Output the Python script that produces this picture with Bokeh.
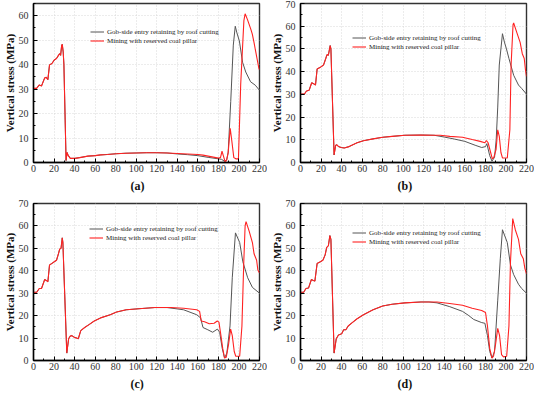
from bokeh.plotting import figure
from bokeh.models import Range1d, FixedTicker, Legend, LegendItem, Title
from bokeh.layouts import column, row
from bokeh.embed import file_html
from bokeh.resources import INLINE

# ---------------- data ----------------
X_TICKS = [0, 20, 40, 60, 80, 100, 120, 140, 160, 180, 200, 220]
X_MINOR = [10, 30, 50, 70, 90, 110, 130, 150, 170, 190, 210]
SERIES_GRAY = "Gob-side entry retaining by roof cutting"
SERIES_RED = "Mining with reserved coal pillar"
PANEL_TAGS = ["(a)", "(b)", "(c)", "(d)"]
Y_MAX = [65, 70, 70, 70]

# (a) shared part (both series coincide), then separate tails
a_common_x = [0, 3, 5.6, 7.8, 10.9, 12.4, 14, 15.6, 18, 20.2, 22.4, 24.3, 25.5, 26.4, 27.4, 28, 28.9, 29.6,
              31.7, 32.7, 33.6, 35.8, 40.4, 45, 52.9, 60, 65.3, 72, 80.9, 90, 100, 110, 120, 130]
a_common_y = [30.3, 30.3, 31.7, 31.3, 34.6, 34.8, 33.9, 39.9, 40.5, 41.9, 42.5, 43.8, 44.5, 43.8, 47.8, 48.3, 45.2, 40,
              0.8, 4.1, 3.0, 1.7, 1.7, 2.0, 2.6, 2.8, 3.1, 3.3, 3.6, 3.8, 3.9, 4.0, 4.0, 3.9]
a_red_x = [140, 150, 160, 165, 170, 175, 180, 182, 183.5, 185, 186.5, 188, 189.5, 191.5, 193, 195, 197, 199.5,
           201.7, 204.8, 206, 208.3, 211.6, 213, 214.7, 216, 217.8, 219.4, 220]
a_red_y = [3.7, 3.5, 3.3, 3.0, 2.6, 2.2, 1.8, 2.0, 4.6, 2.5, 0.3, 1.0, 4.0, 14.0, 9.0, 2.0, 1.5, 1.5,
           32.0, 58.0, 60.8, 58.4, 54.4, 52.5, 49.0, 46.0, 42.0, 38.5, 37.9]
a_gray_x = [140, 150, 160, 170, 180, 183, 186, 188, 189.5, 192, 194.5, 196.4, 198, 200.4, 203.5, 206.6, 211.3,
            215.9, 220]
a_gray_y = [3.5, 3.2, 2.8, 2.1, 1.5, 1.3, 0.5, 1.0, 4.0, 25.0, 48.0, 55.7, 53.0, 49.7, 41.0, 37.0, 33.0,
            31.6, 29.5]

# (b)
b_common_x = [0, 3.7, 5.9, 8.4, 10.9, 13.1, 14.6, 16.2, 19.3, 22.4, 24.6, 25.8, 27.1, 28.9, 29.6, 32.7, 34.2,
              35.5, 37, 39.5, 42.6, 47.3, 55.1, 61.3, 70.6, 80, 89.3, 101.7, 117.3, 130]
b_common_y = [30.1, 30.1, 31.5, 31.8, 35.1, 34.6, 34.1, 41.2, 41.9, 42.9, 45.8, 47.5, 47.2, 51.5, 50, 3.3, 7.6,
              7.8, 7.0, 6.6, 6.4, 7.0, 8.7, 9.6, 10.4, 11.1, 11.5, 12.0, 12.1, 12.0]
b_red_x = [136, 145.3, 157.7, 167.1, 174.9, 179.5, 181, 182.6, 185.1, 186.7, 188.2, 190.4, 192, 193.5, 195.1,
           196.6, 201.3, 203.8, 205, 206.9, 207.5, 210.6, 213.8, 215.9, 217.8, 219, 220]
b_red_y = [12.0, 11.5, 11.1, 10.1, 9.3, 8.7, 9.7, 8.7, 4.4, 1.6, 2.3, 5.8, 14.4, 11.5, 4.4,
           2.0, 2.0, 14.4, 42.9, 60.7, 61.4, 57.2, 52.9, 47.9, 45.8, 40.8, 37.9]
b_gray_x = [140, 150, 160, 170, 176.4, 180.1, 181.4, 184.2, 186.4, 188.9, 190.5, 192, 193.5, 196.6, 198.5,
            200.5, 202.9, 207.5, 212.2, 215.3, 220]
b_gray_y = [11.2, 10.3, 9.3, 7.6, 6.6, 7.0, 8.3, 3.0, 0.6, 2.3, 10.0, 24.4, 42.9, 56.7, 53.0,
            50.0, 45.8, 38.4, 34.1, 32.6, 30.1]

# (c)
c_common_x = [0, 3.1, 5.6, 7.8, 10.9, 12.4, 14, 15.6, 18, 20.2, 22.4, 24.3, 25.5, 26.8, 28, 28.6, 32.4, 34.2,
              35.8, 37.3, 39.8, 42, 43.6, 46, 49.8, 54.4, 59.1, 65.3, 74.7, 80.9, 90.2, 102.7, 118.2, 130]
c_common_y = [30.4, 30.4, 32.1, 32.1, 36.1, 35.7, 35.1, 42.6, 43.3, 44.0, 44.7, 47.6, 49.7, 50.0, 54.7, 52.6, 3.3,
              9.7, 10.9, 11.1, 10.3, 10.0, 9.7, 13.3, 14.7, 16.1, 17.6, 19.0, 20.4, 21.6, 22.6, 23.1, 23.6, 23.6]
c_red_x = [133.8, 146.2, 158.9, 161.7, 163.3, 166.5, 171.1, 175.8, 178.9, 180.5, 182, 184.2, 186, 187.6, 189.8,
           191.9, 193.5, 195.4, 196.9, 200.7, 202.9, 204.7, 206, 206.9, 210, 213.1, 214.7, 217.2, 218.4, 220]
c_red_y = [23.6, 23.3, 22.6, 21.9, 17.6, 17.3, 16.4, 16.6, 17.6, 17.1, 12.6, 5.4, 1.1, 1.4, 6.9,
           14.0, 11.1, 4.0, 1.9, 1.9, 15.4, 44.0, 60.0, 61.9, 57.6, 52.6, 47.6, 44.7, 40.4, 39.0]
c_gray_x = [140, 146.2, 158.9, 162.6, 165, 169.7, 174.4, 179, 181.2, 183.7, 186, 188.2, 191.3, 193.5, 196.6,
            200.7, 203.8, 208.5, 213.1, 220]
c_gray_y = [23.0, 22.6, 20.4, 19.0, 14.7, 13.7, 12.6, 14.0, 12.6, 5.4, 1.1, 3.3, 15.4, 36.9, 56.9,
            52.6, 44.0, 36.9, 32.6, 30.0]

# (d)
d_common_x = [0, 3.1, 5.3, 7.8, 10.6, 12.4, 14, 16.2, 19.3, 21.8, 24, 25.5, 27.1, 28.6, 29.6, 32.7, 34.8, 37,
              40.1, 42, 44.2, 46.4, 50.4, 55.1, 61.3, 70.6, 80, 89.3, 101.7, 117.3, 125]
d_common_y = [30.4, 30.4, 32.1, 32.3, 36.1, 35.7, 35.4, 43.3, 44.0, 44.7, 47.1, 50.4, 51.1, 55.7, 54.0, 3.3, 9.7,
              11.4, 11.9, 13.7, 13.7, 15.4, 16.9, 18.6, 20.4, 22.6, 24.3, 25.1, 25.7, 26.1, 26.1]
d_red_x = [132.9, 145.3, 157.7, 167.1, 176.4, 180.1, 182, 184.2, 186.4, 187.9, 189.8, 192, 193.8, 195.7, 197.6,
           200.7, 202.9, 204.4, 206.6, 209.1, 212.2, 214.4, 216.9, 218.4, 220]
d_red_y = [26.1, 25.4, 24.6, 23.3, 22.3, 21.4, 15.4, 5.4, 1.1, 1.9, 6.9, 14.3, 11.1, 2.6, 1.6,
           1.9, 15.4, 44.0, 63.3, 58.3, 54.0, 47.6, 45.4, 41.1, 38.6]
d_gray_x = [132.9, 145.3, 157.7, 163.9, 168.6, 176.4, 179.5, 182, 184.2, 186.4, 188.9, 192, 194.5, 196.6, 201.3,
            204.4, 207.5, 212.2, 215.3, 220]
d_gray_y = [25.7, 24.0, 21.9, 20.0, 18.3, 16.9, 16.6, 11.1, 4.0, 1.1, 4.0, 26.9, 45.4, 58.3, 52.6,
            42.6, 38.3, 34.0, 32.1, 30.0]

FONT = "Liberation Serif"


def panel(tag, ymax, cx, cy, rx, ry, gx, gy, top, legend_xy):
    p = figure(width=267, height=198, x_range=Range1d(0, 220), y_range=Range1d(0, ymax),
               output_backend="svg", toolbar_location=None,
               min_border_left=30, min_border_right=8, min_border_top=top, min_border_bottom=36)
    p.background_fill_color = "white"
    p.border_fill_color = "white"
    p.outline_line_color = "#333333"
    p.outline_line_width = 1.4

    yt = list(range(0, ymax + 1, 10))
    ym = list(range(5, ymax + 1, 10))
    p.xaxis.ticker = FixedTicker(ticks=X_TICKS, minor_ticks=X_MINOR)
    p.yaxis.ticker = FixedTicker(ticks=yt, minor_ticks=ym)
    for ax in (p.xaxis[0], p.yaxis[0]):
        ax.major_tick_in = 4
        ax.major_tick_out = 0
        ax.minor_tick_in = 2
        ax.minor_tick_out = 0
        ax.axis_line_color = "black"
        ax.axis_line_width = 1.4
        ax.major_tick_line_color = "black"
        ax.minor_tick_line_color = "black"
        ax.major_label_text_font = FONT
        ax.major_label_text_font_size = "10px"
        ax.major_label_text_color = "#333333"
    p.xaxis.major_label_standoff = 2
    p.yaxis.major_label_standoff = 5
    p.yaxis.axis_label = "Vertical stress (MPa)"
    p.yaxis.axis_label_text_font = FONT
    p.yaxis.axis_label_text_font_style = "bold"
    p.yaxis.axis_label_text_font_size = "11px"
    p.yaxis.axis_label_standoff = 0
    p.yaxis.axis_label_text_color = "#111111"

    for g in (p.xgrid[0], p.ygrid[0]):
        g.grid_line_color = "#d4d4d4"
        g.grid_line_dash = "1 2"
        g.grid_line_width = 0.9
    p.xgrid.ticker = FixedTicker(ticks=X_TICKS)
    p.ygrid.ticker = FixedTicker(ticks=yt)

    gr = p.line(cx + gx, cy + gy, line_color="#555555", line_width=1.0)
    rr = p.line(cx + rx, cy + ry, line_color="#ff2222", line_width=1.1)

    leg = Legend(items=[LegendItem(label=SERIES_GRAY, renderers=[gr]),
                        LegendItem(label=SERIES_RED, renderers=[rr])],
                 location=legend_xy, border_line_alpha=0, background_fill_alpha=0,
                 label_text_font=FONT, label_text_font_size="7px", label_text_color="#222222",
                 glyph_width=14, glyph_height=9, label_height=9, label_standoff=3,
                 spacing=0, padding=0, margin=0)
    p.add_layout(leg)

    t = Title(text=tag, align="left", offset=97, standoff=4, text_font=FONT, text_font_style="bold",
              text_font_size="12px", text_color="#111111")
    p.add_layout(t, "below")
    return p


pa = panel(PANEL_TAGS[0], Y_MAX[0], a_common_x, a_common_y, a_red_x, a_red_y, a_gray_x, a_gray_y, 3, (57, 117))
pb = panel(PANEL_TAGS[1], Y_MAX[1], b_common_x, b_common_y, b_red_x, b_red_y, b_gray_x, b_gray_y, 3, (52, 111))
pc = panel(PANEL_TAGS[2], Y_MAX[2], c_common_x, c_common_y, c_red_x, c_red_y, c_gray_x, c_gray_y, 5, (56, 118))
pd = panel(PANEL_TAGS[3], Y_MAX[3], d_common_x, d_common_y, d_red_x, d_red_y, d_gray_x, d_gray_y, 5, (52, 114))

layout = column(row(pa, pb, spacing=0), row(pc, pd, spacing=0), spacing=0)
open("out.html", "w").write(file_html(layout, INLINE))
